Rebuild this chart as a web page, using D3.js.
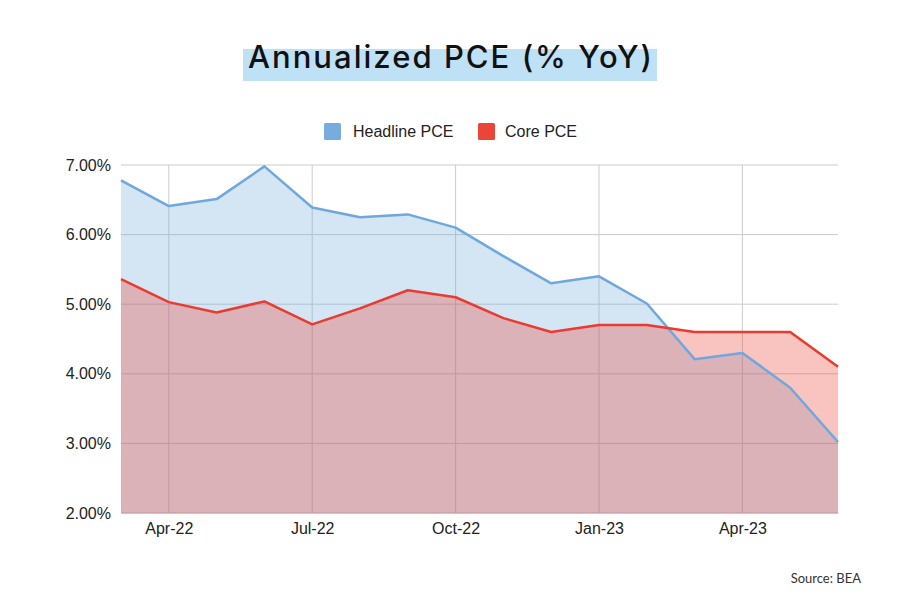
<!DOCTYPE html>
<html><head><meta charset="utf-8">
<script src="https://cdn.jsdelivr.net/npm/d3@7"></script>
<style>body{margin:0;background:#fff}</style>
</head><body>
<svg id="c" width="900" height="600"></svg>
<script>
const months = ["Mar-22","Apr-22","May-22","Jun-22","Jul-22","Aug-22","Sep-22","Oct-22","Nov-22","Dec-22","Jan-23","Feb-23","Mar-23","Apr-23","May-23","Jun-23"];
const headline = [6.78,6.41,6.51,6.98,6.39,6.25,6.29,6.10,5.69,5.30,5.40,5.01,4.21,4.30,3.80,3.02];
const core = [5.36,5.03,4.88,5.04,4.71,4.94,5.20,5.10,4.80,4.60,4.70,4.70,4.60,4.60,4.60,4.10];
const yTicks = [2,3,4,5,6,7];
const xTickLabels = ["Apr-22","Jul-22","Oct-22","Jan-23","Apr-23"];
const seriesNames = ["Headline PCE","Core PCE"];
const colors = ["#6fa8dc","#ea3b2e"];
const title = "Annualized PCE (% YoY)";
const source = "Source: BEA";

const svg = d3.select("#c");
const L=121,R=838,T=165,B=513;
const x = d3.scalePoint().domain(months).range([L,R]);
const y = d3.scaleLinear().domain([2,7]).range([B,T]);

// title
const tg = svg.append("g");
tg.append("rect").attr("x",243).attr("y",49).attr("width",414).attr("height",32).attr("fill","#bfe1f6");
const tt = tg.append("text").attr("x",248).attr("y",68)
  .attr("font-family","Inter, 'Noto Sans', sans-serif").attr("font-weight",500)
  .attr("font-size",31).attr("fill","#111").text(title);
const w = tt.node().getComputedTextLength();
tt.attr("letter-spacing", Math.max(0,(404 - w)/21));

// legend
const lg = svg.append("g").attr("font-family","Liberation Sans, Arial, sans-serif").attr("font-size",16).attr("fill","#222");
[[324,353],[478,505]].forEach((p,i)=>{
  lg.append("rect").attr("x",p[0]).attr("y",123).attr("width",17).attr("height",17).attr("rx",1.5).attr("fill",colors[i]).attr("opacity",0.95);
  lg.append("text").attr("x",p[1]).attr("y",137).attr("fill","#222").text(seriesNames[i]);
});

// grid
svg.append("g").selectAll("line").data(yTicks).join("line")
  .attr("x1",L).attr("x2",R).attr("y1",d=>y(d)).attr("y2",d=>y(d))
  .attr("stroke","#cccccc").attr("stroke-width",1);
svg.append("g").selectAll("line").data(xTickLabels).join("line")
  .attr("x1",d=>x(d)).attr("x2",d=>x(d)).attr("y1",T).attr("y2",B)
  .attr("stroke","#cccccc").attr("stroke-width",1);

// areas
const data = [headline, core];
data.forEach((vals,i)=>{
  const area = d3.area().x((d,j)=>x(months[j])).y0(y(2)).y1(d=>y(d));
  svg.append("path").datum(vals).attr("d",area).attr("fill",colors[i]).attr("fill-opacity",0.3);
});
data.forEach((vals,i)=>{
  const line = d3.line().x((d,j)=>x(months[j])).y(d=>y(d));
  svg.append("path").datum(vals).attr("d",line).attr("fill","none").attr("stroke",colors[i]).attr("stroke-width",2.5).attr("stroke-linejoin","round");
});

// axes
const yAxis = svg.append("g").attr("transform",`translate(${L},0)`)
  .call(d3.axisLeft(y).tickValues(yTicks).tickSize(0).tickPadding(10).tickFormat(d=>d3.format(".2f")(d)+"%"));
yAxis.select(".domain").remove();
yAxis.selectAll("text").attr("font-family","Liberation Sans, Arial, sans-serif").attr("font-size",16).attr("fill","#222");
const xAxis = svg.append("g").attr("transform",`translate(0,${B})`)
  .call(d3.axisBottom(x).tickValues(xTickLabels).tickSize(0).tickPadding(10));
xAxis.select(".domain").attr("stroke","#c8c8c8");
xAxis.selectAll("text").attr("font-family","Liberation Sans, Arial, sans-serif").attr("font-size",16).attr("fill","#222");

svg.append("text").attr("x",861).attr("y",583).attr("text-anchor","end")
  .attr("font-family","Lato, 'Open Sans', sans-serif").attr("font-size",13).attr("fill","#333").text(source);
</script>
</body></html>
